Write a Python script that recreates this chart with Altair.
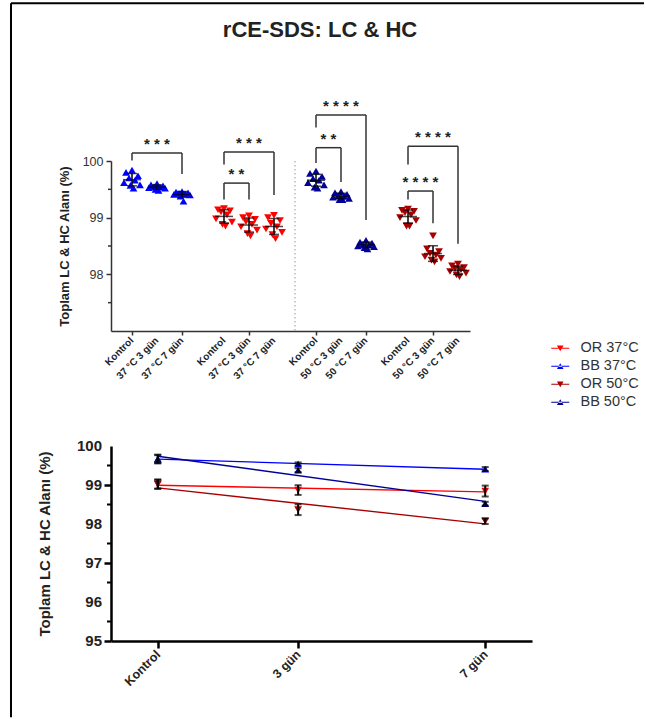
import altair as alt
import numpy as np
import pandas as pd

FONT = "Liberation Sans"

# ---- series and conditions -------------------------------------------------
series_names = ["OR 37°C", "BB 37°C", "OR 50°C", "BB 50°C"]
series_colors = ["#ff0000", "#0000ff", "#a80000", "#000098"]
series_shapes = ["triangle-down", "triangle-up", "triangle-down", "triangle-up"]

condition_names = ["Kontrol", "3 gün", "7 gün"]
condition_days = [0, 3, 7]

# dot-plot groups, left to right, and the temperature shown in their tick labels
dot_groups = ["BB 37°C", "OR 37°C", "BB 50°C", "OR 50°C"]
dot_group_temps = ["37", "37", "50", "50"]

# axis ticks (labelled majors and unlabelled minors)
top_major_ticks = [98, 99, 100]
top_minor_ticks = [97.5, 98.5, 99.5]
bottom_major_ticks = [95, 96, 97, 98, 99, 100]
bottom_minor_ticks = [95.5, 96.5, 97.5, 98.5, 99.5]

# ---- replicate measurements: total LC & HC area (%) -------------------------
bb37_kontrol = [99.84, 99.80, 99.74, 99.70, 99.66, 99.62, 99.57, 99.52, 99.58]
bb37_3gun = [99.60, 99.58, 99.56, 99.55, 99.54, 99.53, 99.52, 99.50, 99.48]
bb37_7gun = [99.46, 99.45, 99.44, 99.43, 99.42, 99.41, 99.40, 99.38, 99.29]

or37_kontrol = [99.16, 99.14, 99.12, 99.10, 99.05, 98.98, 98.92, 98.88, 98.85]
or37_3gun = [99.03, 99.00, 98.97, 98.93, 98.88, 98.84, 98.78, 98.72, 98.68]
or37_7gun = [99.04, 99.00, 98.95, 98.90, 98.84, 98.80, 98.74, 98.70, 98.63]

bb50_kontrol = [99.82, 99.78, 99.73, 99.69, 99.66, 99.62, 99.58, 99.54, 99.52]
bb50_3gun = [99.46, 99.44, 99.41, 99.39, 99.38, 99.36, 99.34, 99.32, 99.32]
bb50_7gun = [98.60, 98.57, 98.55, 98.53, 98.52, 98.50, 98.49, 98.47, 98.45]

or50_kontrol = [99.15, 99.13, 99.11, 99.09, 99.05, 99.00, 98.95, 98.85, 98.85]
or50_3gun = [98.68, 98.45, 98.40, 98.37, 98.34, 98.31, 98.28, 98.25, 98.22]
or50_7gun = [98.18, 98.15, 98.12, 98.10, 98.08, 98.05, 98.02, 97.99, 97.96]

measurements = {
    "BB 37°C": [bb37_kontrol, bb37_3gun, bb37_7gun],
    "OR 37°C": [or37_kontrol, or37_3gun, or37_7gun],
    "BB 50°C": [bb50_kontrol, bb50_3gun, bb50_7gun],
    "OR 50°C": [or50_kontrol, or50_3gun, or50_7gun],
}

# ---- significance brackets (dot-plot group, compared conditions, stars, levels)
bracket_group = [0, 1, 1, 2, 2, 3, 3]
bracket_first = [0, 0, 0, 0, 0, 0, 0]
bracket_second = [2, 1, 2, 1, 2, 1, 2]
bracket_stars = ["***", "**", "***", "**", "****", "****", "****"]
bracket_level = [100.14, 99.61, 100.16, 100.235, 100.81, 99.47, 100.26]
bracket_left_end = [100.01, 99.32, 99.94, 99.965, 100.59, 99.32, 99.94]
bracket_right_end = [99.77, 99.32, 99.40, 99.63, 98.96, 98.90, 98.54]

# ---- derived tables ---------------------------------------------------------
GROUP_STEP = 3.68  # distance between dot-plot groups, in category steps
JITTER = [0.0, -0.24, 0.24, -0.12, 0.12, -0.32, 0.32, -0.06, 0.06]

point_rows, stat_rows, tick_pos, tick_lab = [], [], [], []
for g, (name, temp) in enumerate(zip(dot_groups, dot_group_temps)):
    for c, vals in enumerate(measurements[name]):
        pos = round(g * GROUP_STEP + c, 2)
        tick_pos.append(pos)
        tick_lab.append("Kontrol" if c == 0 else f"{temp} °C {condition_names[c]}")
        order = np.argsort(vals)[::-1]
        for r, idx in enumerate(order):
            point_rows.append({"series": name, "value": vals[idx],
                               "x": pos + JITTER[r % len(JITTER)]})
        m = float(np.mean(vals))
        s = float(np.std(vals, ddof=1))
        stat_rows.append({"series": name, "x": pos, "day": condition_days[c],
                          "mean": m, "lo": m - s, "hi": m + s})

points_df = pd.DataFrame(point_rows)
stats_df = pd.DataFrame(stat_rows)
xlab_df = pd.DataFrame({"pos": tick_pos, "label": tick_lab})

# linear trend of each series over storage time
fit_rows = []
for name in series_names:
    xs = np.repeat(condition_days, [len(v) for v in measurements[name]])
    ys = np.concatenate(measurements[name])
    slope, icpt = np.polyfit(xs, ys, 1)
    for d in (condition_days[0], condition_days[-1]):
        fit_rows.append({"series": name, "day": d, "fit": icpt + slope * d})
fit_df = pd.DataFrame(fit_rows)

seg_rows, star_rows = [], []
for g, a, b, st, lvl, le, re in zip(bracket_group, bracket_first, bracket_second,
                                    bracket_stars, bracket_level,
                                    bracket_left_end, bracket_right_end):
    xa, xb = tick_pos[g * 3 + a], tick_pos[g * 3 + b]
    seg_rows += [
        {"x": xa, "x2": xa, "y": lvl, "y2": le},
        {"x": xb, "x2": xb, "y": lvl, "y2": re},
        {"x": xa, "x2": xb, "y": lvl, "y2": lvl},
    ]
    star_rows.append({"x": (xa + xb) / 2, "y": lvl + 0.21, "label": " ".join(st)})
seg_df = pd.DataFrame(seg_rows)
star_df = pd.DataFrame(star_rows)

# dotted separator between the 37 °C and 50 °C halves
sep_x = (tick_pos[5] + tick_pos[6]) / 2
sep_df = pd.DataFrame({"x": [sep_x], "y": [100.0], "y2": [97.0]})

legend_df = pd.DataFrame({"series": series_names})
top_minor_df = pd.DataFrame({"v": top_minor_ticks})
bottom_major_df = pd.DataFrame({"v": bottom_major_ticks})
bottom_minor_df = pd.DataFrame({"v": bottom_minor_ticks})

# ---- scales -----------------------------------------------------------------
color_scale = alt.Scale(domain=series_names, range=series_colors)
shape_scale = alt.Scale(domain=series_names, range=series_shapes)

# legend keys: a short line through the series' triangle
down_path = "M-1.5,-0.09L1.5,-0.09L1.5,0.09L-1.5,0.09ZM-0.55,-0.45L0.55,-0.45L0,0.5Z"
up_path = "M-1.5,-0.09L1.5,-0.09L1.5,0.09L-1.5,0.09ZM-0.55,0.45L0.55,0.45L0,-0.5Z"
key_scale = alt.Scale(domain=series_names,
                      range=[down_path if s == "triangle-down" else up_path
                             for s in series_shapes])

x_top_scale = alt.Scale(domain=[-0.84, 13.52], nice=False, zero=False)
y_top_scale = alt.Scale(domain=[97, 100], nice=False, zero=False)
x_bot_scale = alt.Scale(domain=[-1, 8], nice=False, zero=False)
y_bot_scale = alt.Scale(domain=[95, 100], nice=False, zero=False)

Y_TITLE = "Toplam LC & HC Alanı (%)"
TOP_H = 170
BOT_H = 195

x_top_axis = alt.Axis(
    values=tick_pos, labels=False,
    tickSize=4, tickWidth=1.5, tickColor="#333",
    domainColor="#333", domainWidth=1.5, title=None,
)
y_top_axis = alt.Axis(
    values=top_major_ticks, format="d",
    tickSize=5, tickWidth=1.5, tickColor="#333", domainColor="#333", domainWidth=1.5,
    labelFont=FONT, labelFontSize=12.5, labelColor="#333", labelPadding=3,
    labelOverlap=False,
    title=Y_TITLE, titleFont=FONT, titleFontSize=13, titleFontWeight="bold",
    titleColor="#222", titlePadding=11,
)

legend_top = alt.Legend(
    title=None, orient="none", direction="vertical",
    legendX=442, legendY=180, padding=0,
    labelFont=FONT, labelFontSize=14.5, labelColor="#333", labelOffset=13,
    symbolSize=144, rowPadding=3, symbolOpacity=1, symbolStrokeWidth=0,
)

# ---- top panel: replicates with mean ± SD and significance brackets -----------
is_or = "indexof(datum.series, 'OR') == 0"

sep = alt.Chart(sep_df).mark_rule(color="#aaaaaa", strokeDash=[1.5, 2.5], strokeWidth=1.2).encode(
    x=alt.X("x:Q", scale=x_top_scale, axis=x_top_axis),
    y=alt.Y("y:Q", scale=y_top_scale, axis=y_top_axis),
    y2="y2:Q",
)

top_minor = alt.Chart(top_minor_df).mark_rule(color="#333", strokeWidth=1.5).encode(
    x=alt.value(-3), x2=alt.value(0),
    y=alt.Y("v:Q", scale=y_top_scale, title=Y_TITLE),
)

# rotated category labels under the dot-plot ticks
top_xlab = alt.Chart(xlab_df).mark_text(
    angle=315, align="right", baseline="middle", font=FONT, fontSize=10,
    fontWeight="bold", color="#222",
).encode(
    x=alt.X("pos:Q", scale=x_top_scale),
    y=alt.value(TOP_H + 8),
    text="label:N",
)

pts = alt.Chart(points_df).mark_point(filled=True, size=60, opacity=1).encode(
    x=alt.X("x:Q", scale=x_top_scale),
    y=alt.Y("value:Q", scale=y_top_scale, title=Y_TITLE),
    color=alt.Color("series:N", scale=color_scale, legend=None),
    shape=alt.condition(is_or, alt.value("triangle-down"), alt.value("triangle-up")),
)

# clipped marks outside the plot that only carry the series legend
keys = alt.Chart(legend_df).mark_point(filled=True, opacity=1, clip=True).encode(
    x=alt.value(-40), y=alt.value(-40),
    color=alt.Color("series:N", scale=color_scale, legend=legend_top),
    shape=alt.Shape("series:N", scale=key_scale, legend=legend_top),
)

sd_bar = alt.Chart(stats_df).mark_rule(color="black", strokeWidth=1.5).encode(
    x=alt.X("x:Q", scale=x_top_scale),
    y=alt.Y("lo:Q", scale=y_top_scale, title=Y_TITLE),
    y2="hi:Q",
)
cap_lo = alt.Chart(stats_df).mark_tick(orient="horizontal", size=10, thickness=1.5, color="black").encode(
    x=alt.X("x:Q", scale=x_top_scale),
    y=alt.Y("lo:Q", scale=y_top_scale, title=Y_TITLE),
)
cap_hi = alt.Chart(stats_df).mark_tick(orient="horizontal", size=10, thickness=1.5, color="black").encode(
    x=alt.X("x:Q", scale=x_top_scale),
    y=alt.Y("hi:Q", scale=y_top_scale, title=Y_TITLE),
)
mean_tick = alt.Chart(stats_df).mark_tick(orient="horizontal", size=18, thickness=1.5, color="black").encode(
    x=alt.X("x:Q", scale=x_top_scale),
    y=alt.Y("mean:Q", scale=y_top_scale, title=Y_TITLE),
)

brackets = alt.Chart(seg_df).mark_rule(color="#333", strokeWidth=1.5).encode(
    x=alt.X("x:Q", scale=x_top_scale),
    x2="x2:Q",
    y=alt.Y("y:Q", scale=y_top_scale, title=Y_TITLE),
    y2="y2:Q",
)
stars = alt.Chart(star_df).mark_text(
    font=FONT, fontSize=15, fontWeight="bold", color="#222", baseline="middle", dy=3
).encode(
    x=alt.X("x:Q", scale=x_top_scale),
    y=alt.Y("y:Q", scale=y_top_scale, title=Y_TITLE),
    text="label:N",
)

top = alt.layer(
    sep, top_minor, top_xlab, keys, pts, sd_bar, cap_lo, cap_hi, mean_tick, brackets, stars
).properties(
    width=359, height=TOP_H,
    title=alt.TitleParams(
        text="rCE-SDS: LC & HC", frame="group", anchor="middle", offset=35, dx=29.5,
        baseline="bottom",
        font=FONT, fontSize=22, fontWeight="bold", color="#222",
    ),
)

# ---- bottom panel: means ± SD over storage time with linear trends ------------
x_bot_axis = alt.Axis(
    values=condition_days,
    labelExpr="datum.value == 0 ? 'Kontrol' : datum.value == 3 ? '3 gün' : '7 gün'",
    labelAngle=-45, labelAlign="right", labelBaseline="middle",
    labelFont=FONT, labelFontSize=12.5, labelFontWeight="bold", labelColor="#222",
    labelPadding=4, labelFlush=False, labelOverlap=False,
    tickSize=7, tickWidth=2.5, tickColor="black",
    domainColor="black", domainWidth=2.5, title=None,
)
y_bot_axis = alt.Axis(
    values=bottom_major_ticks, labels=False,
    tickSize=7, tickWidth=2.5, tickColor="black", domainColor="black", domainWidth=2.5,
    title=Y_TITLE, titleFont=FONT, titleFontSize=15, titleFontWeight="bold",
    titleColor="#222", titlePadding=50,
)

trend = alt.Chart(fit_df).mark_line(strokeWidth=1.4).encode(
    x=alt.X("day:Q", scale=x_bot_scale, axis=x_bot_axis),
    y=alt.Y("fit:Q", scale=y_bot_scale, axis=y_bot_axis),
    color=alt.Color("series:N", scale=color_scale, legend=None),
    detail="series:N",
)
bottom_minor = alt.Chart(bottom_minor_df).mark_rule(color="black", strokeWidth=2).encode(
    x=alt.value(-4), x2=alt.value(0),
    y=alt.Y("v:Q", scale=y_bot_scale, title=Y_TITLE),
)
# value labels beside the major ticks
bottom_ylab = alt.Chart(bottom_major_df).mark_text(
    align="right", baseline="middle", font=FONT, fontSize=15, fontWeight="bold", color="#222",
).encode(
    x=alt.value(-9),
    y=alt.Y("v:Q", scale=y_bot_scale, title=Y_TITLE),
    text=alt.Text("v:Q", format="d"),
)
mean_pts = alt.Chart(stats_df).mark_point(filled=True, size=60, opacity=1).encode(
    x=alt.X("day:Q", scale=x_bot_scale),
    y=alt.Y("mean:Q", scale=y_bot_scale, title=Y_TITLE),
    color=alt.Color("series:N", scale=color_scale, legend=None),
    shape=alt.Shape("series:N", scale=shape_scale, legend=None),
)
bot_bar = alt.Chart(stats_df).mark_rule(color="black", strokeWidth=2).encode(
    x=alt.X("day:Q", scale=x_bot_scale),
    y=alt.Y("lo:Q", scale=y_bot_scale, title=Y_TITLE),
    y2="hi:Q",
)
bot_cap_lo = alt.Chart(stats_df).mark_tick(orient="horizontal", size=7, thickness=2, color="black").encode(
    x=alt.X("day:Q", scale=x_bot_scale),
    y=alt.Y("lo:Q", scale=y_bot_scale, title=Y_TITLE),
)
bot_cap_hi = alt.Chart(stats_df).mark_tick(orient="horizontal", size=7, thickness=2, color="black").encode(
    x=alt.X("day:Q", scale=x_bot_scale),
    y=alt.Y("hi:Q", scale=y_bot_scale, title=Y_TITLE),
)

# figure frame (top and left border lines)
frame_df = pd.DataFrame({"k": [0]})
frame_left = alt.Chart(frame_df).mark_rule(color="black", strokeWidth=2).encode(
    x=alt.value(-100), y=alt.value(-442.7), y2=alt.value(271.3)
)
frame_top = alt.Chart(frame_df).mark_rule(color="black", strokeWidth=2).encode(
    x=alt.value(-100), x2=alt.value(533), y=alt.value(-442.7)
)

bottom = alt.layer(
    trend, bottom_minor, bottom_ylab, mean_pts, bot_bar, bot_cap_lo, bot_cap_hi,
    frame_left, frame_top,
).properties(width=421, height=BOT_H)

chart = (
    alt.vconcat(top, bottom, spacing=115, bounds="flush")
    .resolve_scale(color="independent", shape="independent")
    .properties(padding={"left": 10, "top": 2, "right": 0, "bottom": 0})
    .configure(font=FONT)
    .configure_view(stroke=None)
    .configure_axis(grid=False)
)

chart.save("out.html", embed_options={"renderer": "svg", "actions": False})
